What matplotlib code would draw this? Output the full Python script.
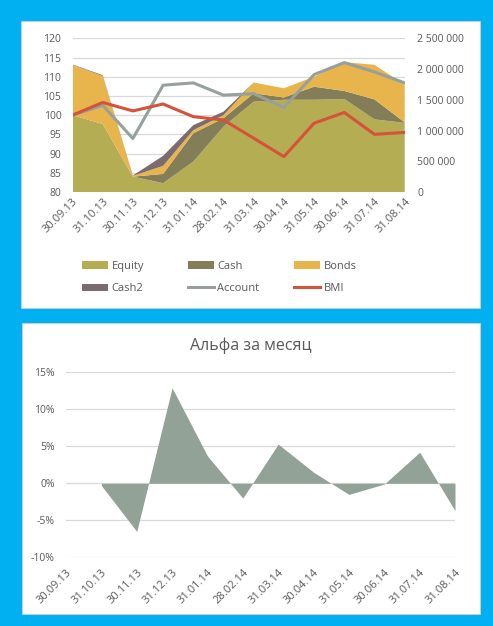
import numpy as np
import matplotlib
matplotlib.use("Agg")
import matplotlib.pyplot as plt
from matplotlib.patches import Rectangle, Patch
from matplotlib.lines import Line2D
from matplotlib.ticker import FuncFormatter, MultipleLocator

plt.rcParams['font.family'] = ['Open Sans', 'DejaVu Sans']

dates = ["30.09.13", "31.10.13", "30.11.13", "31.12.13", "31.01.14", "28.02.14",
         "31.03.14", "30.04.14", "31.05.14", "30.06.14", "31.07.14", "31.08.14"]

# stacked components (left axis, index)
equity = [100.0, 97.7, 84.0, 82.3, 87.9, 97.0, 103.5, 104.0, 104.0, 104.2, 98.9, 98.0]
cash   = [0.0, 0.0, 0.0, 2.4, 7.4, 2.2, 2.2, 0.6, 3.4, 2.1, 5.2, 0.1]
bonds  = [13.1, 12.5, 0.2, 2.1, 0.8, 0.8, 2.8, 2.4, 2.6, 7.5, 9.0, 9.8]
cash2  = [0.1, 0.2, 0.1, 2.6, 1.3, 0.9, 0.0, 0.0, 0.0, 0.0, 0.0, 0.0]

# right axis
account = [1250000, 1410000, 870000, 1737000, 1775000, 1575000, 1600000, 1375000,
           1910000, 2105000, 1953000, 1775000]
# left axis
bmi = [100.0, 103.3, 101.1, 102.9, 99.6, 98.75, 94.0, 89.2, 97.9, 100.7, 95.0, 95.5]

# monthly alpha, percent
alpha = [np.nan, -0.3, -6.5, 12.9, 3.7, -2.0, 5.3, 1.5, -1.5, -0.1, 4.2, -3.7]

W, H = 493, 626
fig = plt.figure(figsize=(W / 100, H / 100), dpi=100)
fig.patch.set_facecolor('#00B0F0')

def px_rect(x0, y0, x1, y1):
    return [x0 / W, 1 - y1 / H, (x1 - x0) / W, (y1 - y0) / H]

fig.patches.append(Rectangle((21 / W, 1 - 308 / H), (480 - 21) / W, (308 - 21) / H,
                             transform=fig.transFigure, facecolor='white',
                             edgecolor='#D0D0D0', lw=0.6, zorder=-10))
fig.patches.append(Rectangle((22 / W, 1 - 614 / H), (480 - 22) / W, (614 - 323) / H,
                             transform=fig.transFigure, facecolor='white',
                             edgecolor='#D0D0D0', lw=0.6, zorder=-10))

TXT = '#595959'
GRID = '#D9D9D9'
c_eq, c_cash, c_bonds, c_cash2 = '#B5AD53', '#847E58', '#E8B44C', '#7B6B6F'
c_acc, c_bmi = '#95A19A', '#D5533A'

x = np.arange(len(dates))

# ---------- top chart ----------
ax = fig.add_axes(px_rect(72.5, 38.3, 404.7, 192))
ax.set_facecolor('none')
ax.stackplot(x, equity, cash, bonds, cash2, colors=[c_eq, c_cash, c_bonds, c_cash2],
             linewidth=0, zorder=2)
ax.set_ylim(80, 120)
ax.set_xlim(0, len(dates) - 1)
ax.yaxis.set_major_locator(MultipleLocator(5))
ax.grid(axis='y', color=GRID, lw=0.9, zorder=0)
ax.set_axisbelow(True)
for s in ax.spines.values():
    s.set_visible(False)
ax.tick_params(axis='y', length=0, pad=8, labelsize=7.5, labelcolor=TXT)
ax.tick_params(axis='x', length=0, pad=3, labelsize=8, labelcolor=TXT)
ax.set_xticks(x)
ax.set_xticklabels(dates, rotation=45, ha='right', va='top', rotation_mode='anchor')

ax2 = ax.twinx()
ax2.plot(x, account, color=c_acc, lw=2.2, solid_joinstyle='round', zorder=3)
ax2.set_ylim(0, 2500000)
ax2.yaxis.set_major_locator(MultipleLocator(500000))
ax2.yaxis.set_major_formatter(FuncFormatter(lambda v, p: f"{v:,.0f}".replace(",", " ")))
ax2.tick_params(axis='y', length=0, pad=9, labelsize=7.5, labelcolor=TXT)
for s in ax2.spines.values():
    s.set_visible(False)

ax3 = ax.twinx()
ax3.plot(x, bmi, color=c_bmi, lw=2.2, solid_joinstyle='round', zorder=4)
ax3.set_ylim(ax.get_ylim())
ax3.set_yticks([])
ax3.set_xlim(ax.get_xlim())
for s in ax3.spines.values():
    s.set_visible(False)

# legend (three columns)
cols = [
    [(Patch(facecolor=c_eq, lw=0), 'Equity'), (Patch(facecolor=c_cash2, lw=0), 'Cash2')],
    [(Patch(facecolor=c_cash, lw=0), 'Cash'), (Line2D([], [], color=c_acc, lw=2.2), 'Account')],
    [(Patch(facecolor=c_bonds, lw=0), 'Bonds'), (Line2D([], [], color=c_bmi, lw=2.2), 'BMI')],
]
for cx, entries in zip([82, 188, 294], cols):
    leg = fig.legend([e[0] for e in entries], [e[1] for e in entries],
                     loc='center left', bbox_to_anchor=(cx / W, 1 - 277.5 / H),
                     bbox_transform=fig.transFigure, frameon=False, fontsize=8,
                     handlelength=2.35, handleheight=0.63, handletextpad=0.3,
                     labelspacing=1.0, borderpad=0, borderaxespad=0, labelcolor=TXT)

# ---------- bottom chart ----------
bx = fig.add_axes(px_rect(66, 372.3, 455, 557.3))
bx.set_facecolor('none')
al = np.array(alpha, dtype=float)
bx.fill_between(x, al, 0, where=~np.isnan(al), color='#93A297', lw=0, zorder=2,
                interpolate=False)
bx.set_ylim(-10, 15)
bx.set_xlim(0, len(dates) - 1)
bx.yaxis.set_major_locator(MultipleLocator(5))
bx.yaxis.set_major_formatter(FuncFormatter(lambda v, p: f"{v:.0f}%"))
bx.grid(axis='y', color=GRID, lw=0.9, zorder=0)
bx.set_axisbelow(True)
for s in bx.spines.values():
    s.set_visible(False)
bx.tick_params(axis='y', length=0, pad=8, labelsize=7.5, labelcolor=TXT)
bx.tick_params(axis='x', length=0, pad=7, labelsize=8, labelcolor=TXT)
bx.set_xticks(x)
bx.set_xticklabels(dates, rotation=45, ha='right', va='top', rotation_mode='anchor')

fig.text(251 / W, 1 - 346 / H, "Альфа за месяц", ha='center', va='center',
         fontsize=11.5, color=TXT)

fig.savefig('out.png', dpi=100)
